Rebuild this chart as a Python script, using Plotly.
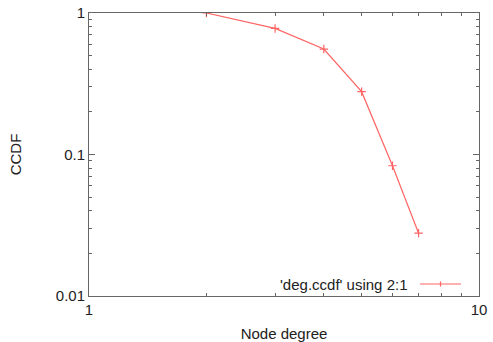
import plotly.graph_objects as go

degree = [2, 3, 4, 5, 6, 7]
ccdf = [1.0, 0.778, 0.556, 0.278, 0.0833, 0.0278]
x_tick_vals = [1, 10]
x_tick_text = ["1", "10"]
y_tick_vals = [0.01, 0.1, 1]
y_tick_text = ["0.01", "0.1", "1"]
series_name = "'deg.ccdf' using 2:1"

RED = "#ff6464"
AXIS = "#666666"
FONT = dict(family="Liberation Sans, Arial, sans-serif", size=15, color="#222222")

fig = go.Figure()
fig.add_trace(go.Scatter(
    x=degree, y=ccdf, mode="lines+markers", name=series_name,
    line=dict(color=RED, width=1.2),
    marker=dict(symbol="cross-thin", size=6, line=dict(color=RED, width=1.2)),
    showlegend=False,
))

minor_x = [2, 3, 4, 5, 6, 7, 8, 9]
minor_y = [v * d for d in (0.01, 0.1) for v in range(2, 10)]

fig.update_xaxes(
    type="log", range=[0, 1], tickmode="array", tickvals=x_tick_vals, ticktext=x_tick_text,
    showline=True, linecolor=AXIS, linewidth=1, mirror="allticks",
    ticks="inside", ticklen=6, tickcolor=AXIS, showgrid=False, zeroline=False,
    minor=dict(tickmode="array", tickvals=minor_x, ticks="inside", ticklen=3, tickcolor=AXIS, showgrid=False),
    tickfont=FONT,
    title=dict(text="Node degree", font=FONT, standoff=12),
)
fig.update_yaxes(
    type="log", range=[-2, 0], tickmode="array", tickvals=y_tick_vals, ticktext=y_tick_text,
    showline=True, linecolor=AXIS, linewidth=1, mirror="allticks",
    ticks="inside", ticklen=6, tickcolor=AXIS, showgrid=False, zeroline=False,
    minor=dict(tickmode="array", tickvals=minor_y, ticks="inside", ticklen=3, tickcolor=AXIS, showgrid=False),
    tickfont=FONT,
    title=dict(text="CCDF", font=FONT, standoff=30),
)

# legend (gnuplot style: text left, sample right)
fig.add_annotation(x=0.8205, y=0.0424, xref="paper", yref="paper", text=series_name,
                   showarrow=False, xanchor="right", yanchor="middle", font=FONT)
fig.add_shape(type="line", xref="paper", yref="paper", x0=0.849, x1=0.954, y0=0.0424, y1=0.0424,
              line=dict(color=RED, width=1.2))
fig.add_shape(type="line", xref="paper", yref="paper", x0=0.9013, x1=0.9013, y0=0.0424 - 0.009, y1=0.0424 + 0.009,
              line=dict(color=RED, width=1.2))

fig.update_layout(
    width=493, height=342,
    margin=dict(l=89, r=14, t=13, b=46, autoexpand=False),
    paper_bgcolor="white", plot_bgcolor="white",
    font=FONT,
)
fig.write_html(
    "out.html",
    config={"responsive": False, "displayModeBar": False},
    post_script=(
        "document.body.style.margin='0';document.body.style.padding='0';"
        "document.body.style.overflow='hidden';"
        "Plotly.relayout(document.getElementById('{plot_id}'), {width:493, height:342});"
    ),
)
